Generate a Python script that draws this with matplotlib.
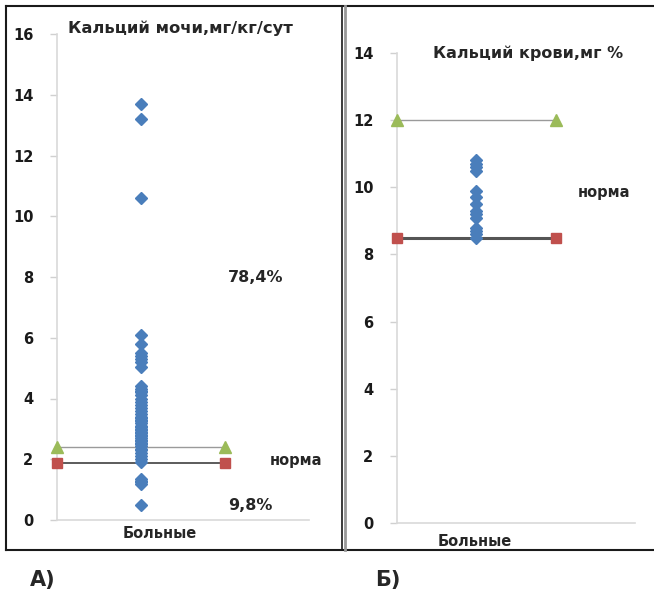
import matplotlib.pyplot as plt
from matplotlib.lines import Line2D

# Кальций мочи, мг/кг/сут (51 больной)
urine_ca = [13.7, 13.2, 10.6, 6.1, 5.8, 5.5, 5.4, 5.3, 5.2, 5.05,
            4.4, 4.3, 4.25, 4.2, 4.1, 4.0, 3.9, 3.8, 3.7, 3.6,
            3.5, 3.4, 3.35, 3.3, 3.25, 3.2, 3.1, 3.05, 3.0, 2.95,
            2.9, 2.85, 2.8, 2.75, 2.7, 2.65, 2.6, 2.55, 2.5, 2.45,
            2.35, 2.3, 2.2, 2.1, 2.0, 1.9,
            1.35, 1.3, 1.25, 1.2, 0.5]
urine_norm = [1.87, 2.4]

# Кальций крови, мг %
blood_ca = [10.8, 10.7, 10.6, 10.5, 9.9, 9.7, 9.5, 9.3, 9.2, 9.1,
            8.8, 8.7, 8.6, 8.5]
blood_norm = [8.5, 12.0]

BLUE = '#4a7ebb'
GREEN = '#9bbb59'
RED = '#c0504d'

fig = plt.figure(figsize=(6.54, 5.96), dpi=100)
W, H = 654, 596


def px_axes(x0, x1, y0, y1):
    # y0 - нижний край, y1 - верхний (в пикселях сверху)
    return fig.add_axes([x0 / W, 1 - y0 / H, (x1 - x0) / W, (y0 - y1) / H])


def style(ax, ymax):
    ax.set_xlim(0, 3)
    ax.set_ylim(0, ymax)
    for s in ['top', 'right']:
        ax.spines[s].set_visible(False)
    for s in ['left', 'bottom']:
        ax.spines[s].set_color('#d9d9d9')
        ax.spines[s].set_linewidth(1.2)
    ax.set_xticks([])
    ax.set_yticks(range(0, ymax + 1, 2))
    ax.tick_params(axis='y', colors='#d0d0d0', length=5, width=1,
                   labelcolor='#1a1a1a', labelsize=10.5, pad=12)
    for t in ax.get_yticklabels():
        t.set_fontweight('bold')


def norm_lines(ax, lo, hi, lo_color, lo_lw):
    ax.plot([0, 2], [hi, hi], color='#9a9a9a', lw=1.0, zorder=2)
    ax.plot([0, 2], [lo, lo], color=lo_color, lw=lo_lw, zorder=2)
    ax.plot([0, 2], [hi, hi], ls='none', marker='^', ms=8, color=GREEN,
            clip_on=False, zorder=4)
    ax.plot([0, 2], [lo, lo], ls='none', marker='s', ms=7, color=RED,
            clip_on=False, zorder=4)


# А) кальций мочи
ax1 = px_axes(57, 309, 520, 34)
style(ax1, 16)
norm_lines(ax1, urine_norm[0], urine_norm[1], '#404040', 1.2)
ax1.plot([1] * len(urine_ca), urine_ca, ls='none', marker='D', ms=6.2,
         color=BLUE, zorder=3)

# Б) кальций крови
ax2 = px_axes(397, 635, 523, 53)
style(ax2, 14)
norm_lines(ax2, blood_norm[0], blood_norm[1], '#555555', 2.2)
ax2.plot([1] * len(blood_ca), blood_ca, ls='none', marker='D', ms=6.2,
         color=BLUE, zorder=3)


def ftext(x, y, s, size=10, ha='left', **kw):
    fig.text(x / W, 1 - y / H, s, ha=ha, va='center', fontsize=size,
             fontweight='bold', color='#262626', **kw)


ftext(68, 28, 'Кальций мочи,мг/кг/сут', 11.8)
ftext(228, 277, '78,4%', 11.5)
ftext(270, 460, 'норма', 10.5)
ftext(228, 505, '9,8%', 11.5)
ftext(160, 534, 'Больные', 10.5, ha='center')

ftext(433, 53, 'Кальций крови,мг %', 11.5)
ftext(578, 192, 'норма', 10.5)
ftext(475, 542, 'Больные', 10.5, ha='center')

ftext(30, 580, 'А)', 15, )
ftext(375, 580, 'Б)', 15)

# рамки вокруг панелей
frame = dict(transform=fig.transFigure, color='#1a1a1a', lw=1.5)
fig.add_artist(Line2D([6 / W, 6 / W], [1 - 6 / H, 1 - 550 / H], **frame))
fig.add_artist(Line2D([6 / W, 1], [1 - 6 / H, 1 - 6 / H], **frame))
fig.add_artist(Line2D([6 / W, 1], [1 - 550 / H, 1 - 550 / H], **frame))
fig.add_artist(Line2D([342 / W, 342 / W], [1 - 6 / H, 1 - 550 / H],
                      transform=fig.transFigure, color='#1a1a1a', lw=1.2))
fig.add_artist(Line2D([345 / W, 345 / W], [1 - 6 / H, 1 - 550 / H],
                      transform=fig.transFigure, color='#999999', lw=2))

fig.savefig('out.png', dpi=100)
